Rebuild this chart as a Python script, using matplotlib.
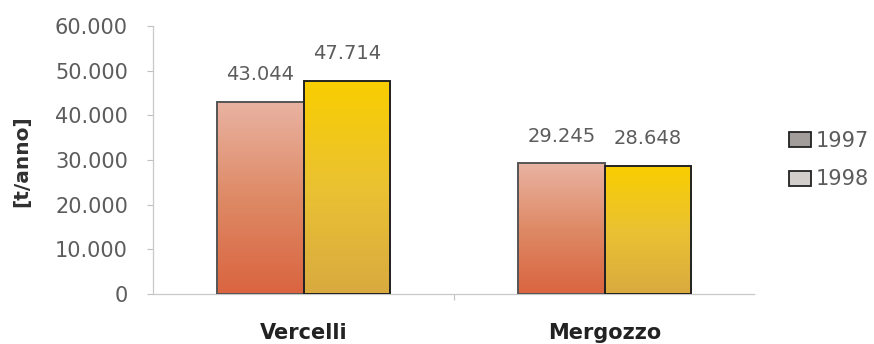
import numpy as np
import matplotlib
matplotlib.use("Agg")
import matplotlib.pyplot as plt
from matplotlib.colors import LinearSegmentedColormap
from matplotlib.patches import Patch
from matplotlib.ticker import FuncFormatter

# Data
categories = ["Vercelli", "Mergozzo"]
years = ["1997", "1998"]
values_1997 = [43044, 29245]
values_1998 = [47714, 28648]
y_ticks = [0, 10000, 20000, 30000, 40000, 50000, 60000]

plt.rcParams["font.family"] = ["DejaVu Sans"]

fig = plt.figure(figsize=(8.74, 3.44), dpi=100)
ax = fig.add_axes([153 / 874, 50 / 344, (755 - 153) / 874, (294 - 26) / 344])

x = np.arange(len(categories))
width = 0.287

# gradient colour maps (bottom -> top)
cmap_97 = LinearSegmentedColormap.from_list("g97", ["#DA6440", "#DE8A66", "#E9B3A2"])
cmap_98 = LinearSegmentedColormap.from_list("g98", ["#D8AA40", "#EAC232", "#F9CE00"])

bars97 = ax.bar(x - width / 2, values_1997, width, facecolor="none",
                edgecolor="#555555", linewidth=1.4, zorder=3)
bars98 = ax.bar(x + width / 2, values_1998, width, facecolor="none",
                edgecolor="#222222", linewidth=1.4, zorder=3)

grad = np.linspace(0, 1, 256).reshape(-1, 1)
for bars, cmap in ((bars97, cmap_97), (bars98, cmap_98)):
    for b in bars:
        x0, y0 = b.get_x(), b.get_y()
        w, h = b.get_width(), b.get_height()
        im = ax.imshow(grad, cmap=cmap, origin="lower", aspect="auto",
                       extent=(x0, x0 + w, y0, y0 + h), zorder=2)
        im.set_clip_path(b)

# value labels
for bars, vals in ((bars97, values_1997), (bars98, values_1998)):
    for b, v in zip(bars, vals):
        label = f"{v:,}".replace(",", ".")
        ax.annotate(label, (b.get_x() + b.get_width() / 2, v),
                    xytext=(0, 19.5), textcoords="offset points",
                    ha="center", va="center", fontsize=14, color="#5c5c5c")

ax.set_xlim(-0.5, 1.5)
ax.set_ylim(0, 60000)
ax.set_yticks(y_ticks)
ax.yaxis.set_major_formatter(FuncFormatter(lambda v, p: f"{int(v):,}".replace(",", ".")))
ax.tick_params(axis="y", length=4, width=0.8, color="#c0c0c0", pad=14,
               labelsize=15, labelcolor="#5c5c5c")

ax.set_xticks(x)
ax.set_xticklabels(categories, fontsize=15, fontweight="bold", color="#222222")
ax.tick_params(axis="x", which="major", length=0, pad=21)
ax.set_xticks([0.5], minor=True)
ax.tick_params(axis="x", which="minor", length=4, width=0.8, color="#c0c0c0")

for side in ("top", "right"):
    ax.spines[side].set_visible(False)
ax.spines["left"].set_color("#c8c8c8")
ax.spines["left"].set_linewidth(0.9)
ax.spines["bottom"].set_color("#c8c8c8")
ax.spines["bottom"].set_linewidth(0.9)
ax.spines["bottom"].set_linestyle((0, (1, 1)))

fig.text(22 / 874, 1 - 161 / 344, "[t/anno]", rotation=90, ha="center", va="center",
         fontsize=14.5, fontweight="bold", color="#303030")

handles = [Patch(facecolor="#a29c9a", edgecolor="#222222", linewidth=1.3),
           Patch(facecolor="#d2cecc", edgecolor="#222222", linewidth=1.3)]
fig.legend(handles, years, loc="center left", bbox_to_anchor=(789 / 874, 1 - 160 / 344),
           frameon=False, fontsize=15, labelcolor="#5c5c5c",
           handlelength=1.05, handleheight=0.72, handletextpad=0.25,
           labelspacing=0.9, borderpad=0.0, borderaxespad=0.0)

fig.savefig("out.png", dpi=100)
